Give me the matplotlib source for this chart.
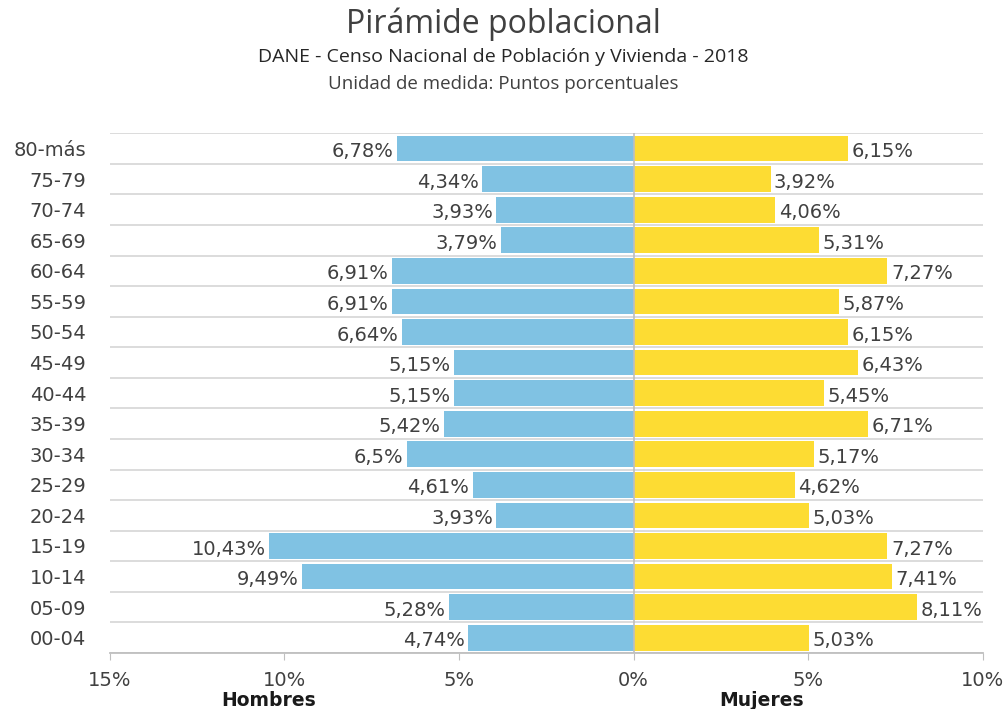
import matplotlib
matplotlib.use("Agg")
import matplotlib.pyplot as plt
from matplotlib.ticker import FixedLocator

age_groups = ["00-04", "05-09", "10-14", "15-19", "20-24", "25-29", "30-34", "35-39",
              "40-44", "45-49", "50-54", "55-59", "60-64", "65-69", "70-74", "75-79", "80-más"]
hombres = [4.74, 5.28, 9.49, 10.43, 3.93, 4.61, 6.5, 5.42,
           5.15, 5.15, 6.64, 6.91, 6.91, 3.79, 3.93, 4.34, 6.78]
mujeres = [5.03, 8.11, 7.41, 7.27, 5.03, 4.62, 5.17, 6.71,
           5.45, 6.43, 6.15, 5.87, 7.27, 5.31, 4.06, 3.92, 6.15]
x_ticks = [-15, -10, -5, 0, 5, 10]
x_tick_labels = ["15%", "10%", "5%", "0%", "5%", "10%"]

blue = "#80C2E3"
yellow = "#FDDC33"
text_col = "#404040"
fs = 14

fig = plt.figure(figsize=(10.08, 7.09), dpi=100)
ax = fig.add_axes([0.109, 0.079, 0.866, 0.733])

y = list(range(len(age_groups)))
ax.barh(y, [-v for v in hombres], height=0.84, color=blue, zorder=2)
ax.barh(y, mujeres, height=0.84, color=yellow, zorder=2)

def fmt(v):
    s = f"{v:.2f}".rstrip("0").rstrip(".")
    return s.replace(".", ",") + "%"

for i, (h, m) in enumerate(zip(hombres, mujeres)):
    ax.text(-h - 0.1, i - 0.1, fmt(h), ha="right", va="center", fontsize=fs,
            color=text_col, family="DejaVu Sans")
    ax.text(m + 0.1, i - 0.1, fmt(m), ha="left", va="center", fontsize=fs,
            color=text_col, family="DejaVu Sans")

ax.set_xlim(-15, 10)
ax.set_ylim(-0.5, len(age_groups) - 0.5)
for k in range(len(age_groups) + 1):
    ax.axhline(k - 0.5, color="#D9D9D9", lw=1.3, zorder=1)
ax.axvline(0, color="#BFBFBF", lw=1.2, zorder=3)

ax.set_yticks(y)
ax.set_yticklabels(age_groups, fontsize=fs, color=text_col)
ax.tick_params(axis="y", length=0, pad=17)
ax.xaxis.set_major_locator(FixedLocator(x_ticks))
ax.set_xticklabels(x_tick_labels, fontsize=fs, color=text_col)
ax.tick_params(axis="x", length=5, color="#BFBFBF", pad=8)

for s in ["top", "right", "left"]:
    ax.spines[s].set_visible(False)
ax.spines["bottom"].set_color("#BFBFBF")
ax.spines["bottom"].set_linewidth(1.3)

fig.text(0.499, 0.966, "Pirámide poblacional", ha="center", va="center",
         fontsize=23, color="#404040", family="Open Sans")
fig.text(0.499, 0.919, "DANE - Censo Nacional de Población y Vivienda - 2018", ha="center",
         va="center", fontsize=14, color="#262626", family="Open Sans")
fig.text(0.499, 0.882, "Unidad de medida: Puntos porcentuales", ha="center", va="center",
         fontsize=13.5, color="#404040", family="Open Sans")
fig.text(0.266, 0.012, "Hombres", ha="center", va="center", fontsize=13.5,
         fontweight="bold", color="#1a1a1a")
fig.text(0.756, 0.012, "Mujeres", ha="center", va="center", fontsize=13.5,
         fontweight="bold", color="#1a1a1a")

fig.savefig("out.png", dpi=100)
